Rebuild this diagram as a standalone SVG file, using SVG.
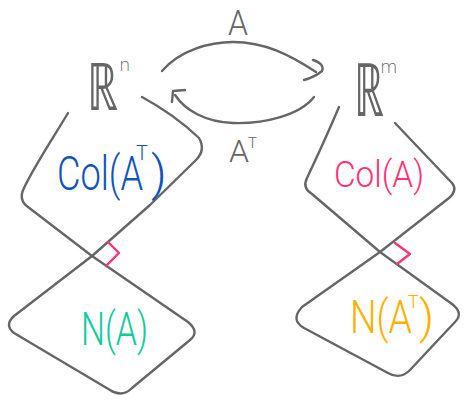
<svg xmlns="http://www.w3.org/2000/svg" width="466" height="401" viewBox="0 0 466 401">
<style>
.ln{fill:none;stroke:#666;stroke-width:2.4;stroke-linecap:round;stroke-linejoin:round}
.ra{fill:none;stroke:#ff3377;stroke-width:2.4;stroke-linecap:round;stroke-linejoin:round}
.t{font-family:Roboto,"Liberation Sans",sans-serif;font-weight:300}
.bb{font-family:"DejaVu Sans",sans-serif;font-weight:200;fill:#666}
</style>
<rect width="466" height="401" fill="#fff"/>
<g id="left-spaces">
<path class="ln" d="M68,113 C55,135 35,165 24,188 Q18,200 28,207 L92,256 L188,322 Q200,332 190,340 L132,388 Q122,398 110,390 L14,333 Q4,325 14,316 L92,256 L150,205 L196,160 Q206,150 199,138 Q175,115 142,97"/>
<path class="ra" d="M108,242 L119,253 L106,266"/>
</g>
<g id="right-spaces">
<path class="ln" d="M339,107 Q325,140 307,178 Q302,188 312,194 L380,252 L452,304 Q464,313 455,322 L410,370 Q400,380 388,373 L304,328 Q290,320 302,307 L380,252 L449,198 Q458,190 452,183 L395,123"/>
<path class="ra" d="M395,243 L410,254 L397,264"/>
</g>
<g id="connectors">
<path class="ln" d="M162,71 C180,50 210,42 233,42 C265,42 290,55 316,72"/>
<path class="ln" d="M313,60 Q325,64 322,71 Q315,77 304,80"/>
<path class="ln" d="M314,97 C300,115 265,124 233,123 C205,122 185,110 175,95"/>
<path class="ln" d="M172,102 L173,91 L185,90"/>
<text class="t" x="228" y="35" font-size="35" fill="#666" textLength="20" lengthAdjust="spacingAndGlyphs">A</text>
<text class="t" font-size="31" fill="#666"><tspan x="229" y="162" textLength="20" lengthAdjust="spacingAndGlyphs">A</tspan><tspan x="248" y="148" font-size="15">T</tspan></text>
</g>
<g id="Rn">
<text class="bb" font-size="66"><tspan x="87" y="110" textLength="31" lengthAdjust="spacingAndGlyphs">ℝ</tspan><tspan x="119" y="71" font-size="18">n</tspan></text>
</g>
<g id="Rm">
<text class="bb" font-size="74"><tspan x="354" y="116" textLength="30" lengthAdjust="spacingAndGlyphs">ℝ</tspan><tspan x="380" y="73" font-size="18">m</tspan></text>
</g>
<g id="col-at">
<text class="t" font-size="48" fill="#1155bb"><tspan x="57" y="190" textLength="86" lengthAdjust="spacingAndGlyphs">Col(A</tspan><tspan x="136" y="160" font-size="20">T</tspan><tspan x="151" y="190">)</tspan></text>
</g>
<g id="null-a">
<text class="t" x="81" y="345" font-size="46" fill="#11cc99" textLength="67" lengthAdjust="spacingAndGlyphs">N(A)</text>
</g>
<g id="col-a">
<text class="t" x="334" y="187" font-size="37" fill="#ff3377" textLength="90" lengthAdjust="spacingAndGlyphs">Col(A)</text>
</g>
<g id="null-at">
<text class="t" font-size="46" fill="#ffb000"><tspan x="350" y="333" textLength="62" lengthAdjust="spacingAndGlyphs">N(A</tspan><tspan x="408" y="308" font-size="18">T</tspan><tspan x="419" y="333">)</tspan></text>
</g>
</svg>
